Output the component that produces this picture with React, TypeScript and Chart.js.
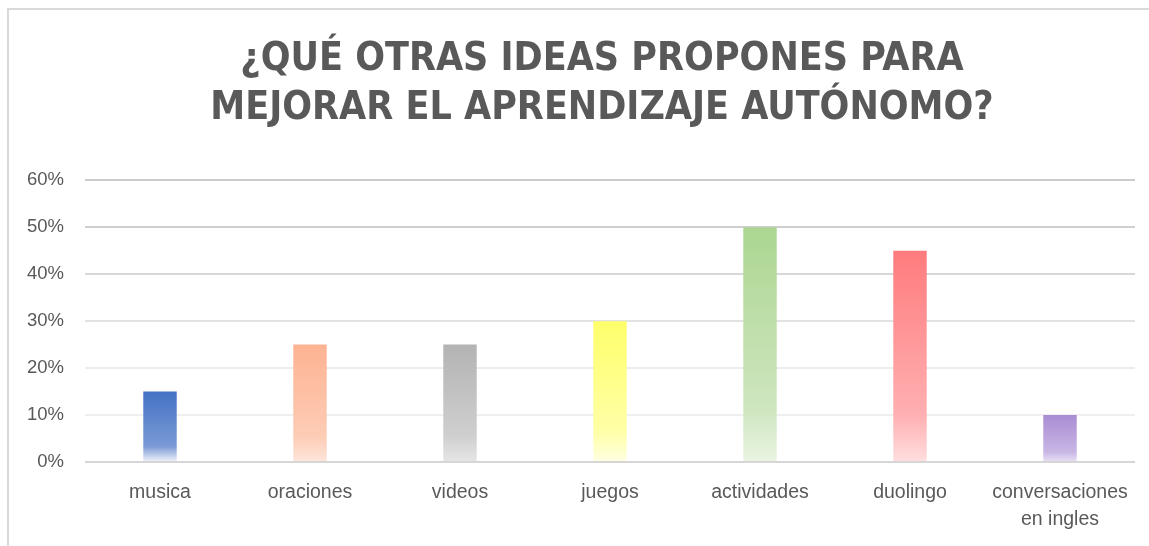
import React, { useEffect, useRef } from "react";
import { Chart, registerables } from "chart.js";

Chart.register(...registerables);

const TITLE_LINES = ["¿QUÉ OTRAS IDEAS PROPONES PARA", "MEJORAR EL APRENDIZAJE AUTÓNOMO?"];
const CATEGORIES: (string | string[])[] = [
  "musica",
  "oraciones",
  "videos",
  "juegos",
  "actividades",
  "duolingo",
  ["conversaciones", "en ingles"],
];
const VALUES = [0.15, 0.25, 0.25, 0.3, 0.5, 0.45, 0.1];
const TOP_COLORS = ["#4472C4", "#FDB392", "#B3B3B3", "#FFFF6B", "#ABD691", "#FF7B7D", "#A98CD3"];
const MID_COLORS = ["#7B9AD6", "#FDCCB5", "#CFCFCF", "#FFFFA6", "#CFE6C0", "#FFB0B2", "#C8B6E4"];
const BOTTOM_COLORS = ["#F2F5FB", "#FDE6DC", "#E6E6E6", "#FFFFE2", "#E9F4E2", "#FFDFE0", "#E8E1F4"];
const Y_MAX = 0.6;
const Y_STEP = 0.1;

const GRID_COLORS: Record<string, string> = {
  "0": "#d6d6d6",
  "0.1": "#efefef",
  "0.2": "#ececec",
  "0.3": "#e2e2e2",
  "0.4": "#d8d8d8",
  "0.5": "#cfcfcf",
  "0.6": "#cbcbcb",
};

const titleShift = {
  id: "titleShift",
  afterLayout(chart: any) {
    const t = chart.titleBlock;
    if (t) {
      t.left = 69;
      t.width = t.right - t.left;
    }
  },
};

export default function App() {
  const canvasRef = useRef<HTMLCanvasElement | null>(null);

  useEffect(() => {
    document.body.style.margin = "0";
    const canvas = canvasRef.current;
    if (!canvas) return;
    const chart = new Chart(canvas, {
      type: "bar",
      plugins: [titleShift],
      data: {
        labels: CATEGORIES,
        datasets: [
          {
            data: VALUES,
            categoryPercentage: 1,
            barPercentage: 0.223,
            backgroundColor: (ctx: any) => {
              const i = ctx.dataIndex;
              const chart = ctx.chart;
              const ys = chart.scales && chart.scales.y;
              if (!ys || i === undefined || VALUES[i] === undefined) return TOP_COLORS[i ?? 0];
              const top = ys.getPixelForValue(VALUES[i]);
              const base = ys.getPixelForValue(0);
              if (!isFinite(top) || !isFinite(base) || top === base) return TOP_COLORS[i];
              const g = chart.ctx.createLinearGradient(0, top, 0, base);
              g.addColorStop(0, TOP_COLORS[i]);
              g.addColorStop(0.78, MID_COLORS[i]);
              g.addColorStop(1, BOTTOM_COLORS[i]);
              return g;
            },
            borderWidth: 0,
          },
        ],
      },
      options: {
        responsive: false,
        animation: false,
        maintainAspectRatio: false,
        layout: { padding: { left: 0, right: 14, top: 0, bottom: 0 } },
        plugins: {
          legend: { display: false },
          tooltip: { enabled: false },
          title: {
            display: true,
            text: TITLE_LINES,
            color: "#595959",
            font: {
              family: "'DejaVu Sans Condensed', 'Liberation Sans', sans-serif",
              size: 39,
              weight: "bold",
              lineHeight: 1.26,
            },
            padding: { top: 35, bottom: 47 },
          },
        },
        scales: {
          x: {
            grid: { display: false, drawTicks: false },
            border: { display: false },
            ticks: {
              color: "#595959",
              padding: 17,
              maxRotation: 0,
              autoSkip: false,
              font: { family: "'Liberation Sans', sans-serif", size: 19.5, lineHeight: 1.4 },
            },
            afterFit: (scale: any) => {
              scale.height = 84;
            },
          },
          y: {
            min: 0,
            max: Y_MAX,
            border: { display: false },
            grid: {
              drawTicks: false,
              lineWidth: 2,
              color: (ctx: any) => {
                const v = ctx.tick ? Math.round(ctx.tick.value * 10) / 10 : 0;
                return GRID_COLORS[String(v)] || "#dddddd";
              },
            },
            ticks: {
              stepSize: Y_STEP,
              color: "#595959",
              padding: 21,
              font: { family: "'Liberation Sans', sans-serif", size: 18.5 },
              callback: (v: any) => Math.round(Number(v) * 100) + "%",
            },
            afterFit: (scale: any) => {
              scale.width = 85;
            },
          },
        },
      },
    });
    return () => chart.destroy();
  }, []);

  return (
    <div style={{ position: "relative", width: 1149, height: 546, background: "#ffffff", overflow: "hidden" }}>
      <div
        style={{
          position: "absolute",
          left: 7,
          top: 8,
          right: -4,
          bottom: -4,
          borderTop: "2px solid #d9d9d9",
          borderLeft: "2px solid #d9d9d9",
        }}
      />
      <canvas ref={canvasRef} width={1149} height={546} style={{ position: "absolute", left: 0, top: 0 }} />
    </div>
  );
}
